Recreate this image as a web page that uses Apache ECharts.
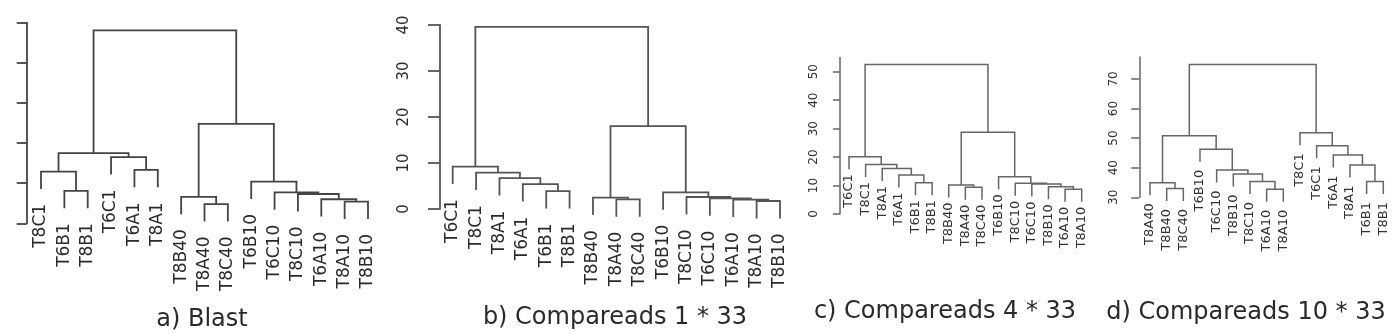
<!DOCTYPE html>
<html>
<head>
<meta charset="utf-8">
<script src="https://cdn.jsdelivr.net/npm/echarts@6/dist/echarts.min.js"></script>
<style>
  html, body { margin: 0; padding: 0; background: #fff; }
  #chart { width: 1395px; height: 333px; }
</style>
</head>
<body>
<div id="chart"></div>
<script>
// a) Blast  (leaf order as drawn, merges: leaf name or index of an earlier merge)
const blastLabels = ["T8C1", "T6B1", "T8B1", "T6C1", "T6A1", "T8A1", "T8B40", "T8A40", "T8C40", "T6B10", "T6C10", "T8C10", "T6A10", "T8A10", "T8B10"];
const blastMerges = [["T6B1", "T8B1"], ["T8C1", 0], ["T6A1", "T8A1"], ["T6C1", 2], [1, 3],
  ["T8A40", "T8C40"], ["T8B40", 5], ["T8A10", "T8B10"], ["T6A10", 7], ["T8C10", 8], ["T6C10", 9], ["T6B10", 10], [6, 11], [4, 12]];
const blastHeights = [0.81, 1.29, 1.33, 1.65, 1.75, 0.48, 0.66, 0.54, 0.60, 0.73, 0.77, 1.04, 2.48, 4.81];
const blastTicks = [0, 1, 2, 3, 4, 5];

// b) Compareads 1 * 33
const c1Labels = ["T6C1", "T8C1", "T8A1", "T6A1", "T6B1", "T8B1", "T8B40", "T8A40", "T8C40", "T6B10", "T8C10", "T6C10", "T6A10", "T8A10", "T8B10"];
const c1Merges = [["T6B1", "T8B1"], ["T6A1", 0], ["T8A1", 1], ["T8C1", 2], ["T6C1", 3],
  ["T8A40", "T8C40"], ["T8B40", 5], ["T8A10", "T8B10"], ["T6A10", 7], ["T6C10", 8], ["T8C10", 9], ["T6B10", 10], [6, 11], [4, 12]];
const c1Heights = [3.9, 5.4, 6.7, 7.9, 9.2, 2.11, 2.46, 1.74, 2.02, 2.33, 2.61, 3.63, 18.0, 39.6];
const c1Ticks = [0, 10, 20, 30, 40];

// c) Compareads 4 * 33
const c4Labels = ["T6C1", "T8C1", "T8A1", "T6A1", "T6B1", "T8B1", "T8B40", "T8A40", "T8C40", "T6B10", "T8C10", "T6C10", "T8B10", "T6A10", "T8A10"];
const c4Merges = [["T6B1", "T8B1"], ["T6A1", 0], ["T8A1", 1], ["T8C1", 2], ["T6C1", 3],
  ["T8A40", "T8C40"], ["T8B40", 5], ["T6A10", "T8A10"], ["T8B10", 7], ["T6C10", 8], ["T8C10", 9], ["T6B10", 10], [6, 11], [4, 12]];
const c4Heights = [11.0, 13.7, 16.0, 17.4, 20.1, 9.4, 10.2, 8.7, 9.6, 10.5, 10.8, 13.1, 28.7, 52.5];
const c4Ticks = [0, 10, 20, 30, 40, 50];

// d) Compareads 10 * 33
const c10Labels = ["T8A40", "T8B40", "T8C40", "T6B10", "T6C10", "T8B10", "T8C10", "T6A10", "T8A10", "T8C1", "T6C1", "T6A1", "T8A1", "T6B1", "T8B1"];
const c10Merges = [["T8B40", "T8C40"], ["T8A40", 0], ["T6A10", "T8A10"], ["T8C10", 2], ["T8B10", 3], ["T6C10", 4], ["T6B10", 5], [1, 6],
  ["T6B1", "T8B1"], ["T8A1", 8], ["T6A1", 9], ["T6C1", 10], ["T8C1", 11], [7, 12]];
const c10Heights = [33.0, 34.9, 32.7, 35.3, 37.9, 39.2, 46.2, 50.8, 35.3, 40.9, 44.3, 47.4, 51.8, 74.9];
const c10Ticks = [30, 40, 50, 60, 70];

const titles = ["a) Blast", "b) Compareads 1 * 33", "c) Compareads 4 * 33", "d) Compareads 10 * 33"];

const FONT = "DejaVu Sans";

// layout / style per panel
const panels = [
  { labels: blastLabels, merges: blastMerges, heights: blastHeights, ticks: blastTicks,
    grid: { left: 41, width: 327, top: 22.7, height: 200.6 }, min: 0, max: 5, offset: 14.3,
    tickLen: 10, axisFont: 15, margin: 26, leafFont: 17, gap: 15, lineWidth: 1.8, color: "#444",
    textColor: "#2a2a2a", title: { x: 202, y: 320 } },
  { labels: c1Labels, merges: c1Merges, heights: c1Heights, ticks: c1Ticks,
    grid: { left: 452.7, width: 327.3, top: 25, height: 184 }, min: 0, max: 40, offset: 12.7,
    tickLen: 12, axisFont: 15, margin: 28, leafFont: 17, gap: 15, lineWidth: 1.8, color: "#555",
    textColor: "#2a2a2a", title: { x: 615, y: 318 } },
  { labels: c4Labels, merges: c4Merges, heights: c4Heights, ticks: c4Ticks,
    grid: { left: 849, width: 232.7, top: 57.5, height: 156.5 }, min: 0, max: 55, offset: 9,
    tickLen: 7, axisFont: 12, margin: 20, leafFont: 13, gap: 5, lineWidth: 1.5, color: "#666",
    textColor: "#333", title: { x: 945, y: 312 } },
  { labels: c10Labels, merges: c10Merges, heights: c10Heights, ticks: c10Ticks,
    grid: { left: 1150, width: 233.3, top: 57, height: 140.3 }, min: 30, max: 77.4, offset: 10.7,
    tickLen: 8, axisFont: 12, margin: 19, leafFont: 13, gap: 8, lineWidth: 1.5, color: "#666",
    textColor: "#333", title: { x: 1246, y: 313 } }
];

// turn a merge list into "⊓" links and hanging leaves
function buildTree(labels, merges, heights) {
  const hang = 0.1 * (Math.max(...heights) - Math.min(...heights));
  const nodeX = [];
  const links = [];
  const leaves = [];
  merges.forEach((pair, i) => {
    const h = heights[i];
    const ends = pair.map((ref) => {
      if (typeof ref === "string") {
        const x = labels.indexOf(ref) + 1;
        leaves.push({ value: [x, h - hang], name: ref });
        return [x, h - hang];
      }
      return [nodeX[ref], heights[ref]];
    });
    links.push([ends[0][0], ends[0][1], ends[1][0], ends[1][1], h]);
    nodeX[i] = (ends[0][0] + ends[1][0]) / 2;
  });
  return { links, leaves };
}

const chart = echarts.init(document.getElementById("chart"));

const grid = [], xAxis = [], yAxis = [], series = [], graphic = [];

panels.forEach((p, i) => {
  const tree = buildTree(p.labels, p.merges, p.heights);
  // v6 would otherwise squeeze the grid to keep axis labels inside the canvas
  grid.push(Object.assign({ containLabel: false, outerBoundsMode: "none" }, p.grid));
  xAxis.push({ type: "value", gridIndex: i, min: 1, max: p.labels.length, show: false });
  yAxis.push({
    type: "value", gridIndex: i, min: p.min, max: p.max, offset: p.offset,
    splitLine: { show: false },
    axisLine: { show: true, lineStyle: { color: p.color, width: p.lineWidth } },
    axisTick: { show: true, length: p.tickLen, customValues: p.ticks, lineStyle: { color: p.color, width: p.lineWidth } },
    axisLabel: { customValues: p.ticks, rotate: 90, margin: p.margin, fontSize: p.axisFont, fontFamily: FONT, color: p.textColor }
  });
  series.push({
    type: "custom", xAxisIndex: i, yAxisIndex: i, clip: false, silent: true,
    data: tree.links,
    renderItem: (params, api) => {
      const a = api.coord([api.value(0), api.value(1)]);
      const b = api.coord([api.value(0), api.value(4)]);
      const c = api.coord([api.value(2), api.value(4)]);
      const d = api.coord([api.value(2), api.value(3)]);
      return { type: "polyline", shape: { points: [a, b, c, d] },
        style: { stroke: p.color, lineWidth: p.lineWidth, fill: null } };
    }
  });
  series.push({
    type: "custom", xAxisIndex: i, yAxisIndex: i, clip: false, silent: true,
    data: tree.leaves,
    renderItem: (params, api) => {
      const pt = api.coord([api.value(0), api.value(1)]);
      return { type: "text", x: pt[0], y: pt[1] + p.gap, rotation: Math.PI / 2,
        style: { text: tree.leaves[params.dataIndex].name, fill: p.textColor, fontSize: p.leafFont,
          fontFamily: FONT, align: "right", verticalAlign: "middle" } };
    }
  });
  graphic.push({ type: "text", x: p.title.x, y: p.title.y, silent: true,
    style: { text: titles[i], fill: "#2a2a2a", fontSize: 24, fontFamily: FONT, align: "center", verticalAlign: "middle" } });
});

chart.setOption({
  animation: false,
  backgroundColor: "#fff",
  grid, xAxis, yAxis, series, graphic
});
</script>
</body>
</html>
